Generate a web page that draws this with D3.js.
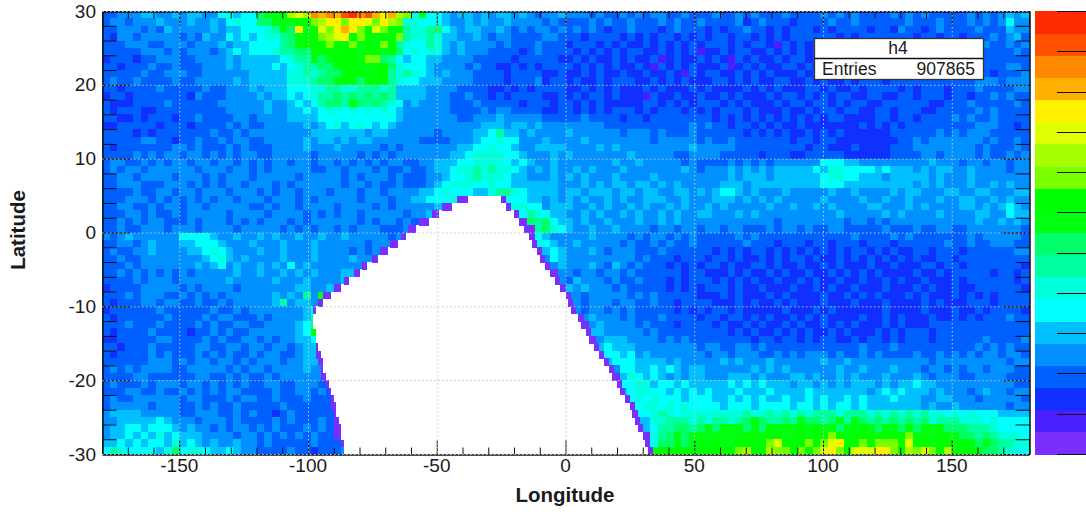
<!DOCTYPE html>
<html><head><meta charset="utf-8">
<script src="https://cdnjs.cloudflare.com/ajax/libs/d3/7.8.5/d3.min.js"></script>
<style>
html,body{margin:0;padding:0;background:#fff}
text{font-family:"Liberation Sans",Arial,sans-serif;fill:#1a1a1a}
</style></head><body><svg id="c" width="1086" height="512"></svg>
<script>
// Palette levels, low to high
const levelColors = ["#7b2fff","#4a1fff","#1030ff","#0060ff","#0090ff","#00c0ff","#00ffff","#00ffdc","#00ffa0","#00ff6a",
  "#00ff10","#00ff00","#78ff00","#a8ff00","#e0ff00","#fff000","#ffb000","#ff8a00","#ff5000","#ff2a00"];
// Bin level read per row (top = lat 29.5); each column is 3 degrees, base-20 digit = palette level
const levelRows = [
"3344455445 4554467566 9aaadedhgh gijhigfgdc 7a66545545 4554543445 4443433434 3443343334 3343433343 3334343433 3343434333 3343434545",
"3443444544 4544546766 99aaabbcdf fcffecfdc7 7666544545 4454444343 3334343343 3343433433 3342343332 3333433433 3333433343 3343434644",
"3344434354 4444545566 678a9fabec fgfcbecbb8 7789654554 4543434434 3434323343 3323433323 2334332323 3323233332 3324332343 3334333544",
"3244344444 3435446565 67789abbcd efbcbabbc8 7787554454 3443333443 3323333232 3233232323 3233232323 3333323233 3333323323 3233343453",
"3334443344 4344454556 66689abbbc bacabacb87 6687545444 4343334333 2333232322 3232323233 3232332132 3233233323 2332323332 3333433434",
"3333344434 3444345656 6678899bbb bbbabbab96 7677545444 3333234333 3232323233 2232323122 3233223232 3232321323 3222332332 3332333343",
"2333233444 3344445455 5556788a9a bbbacc9865 6655444433 3332333332 2323223232 2312322323 2132322323 3232232232 2323232323 2323333333",
"3323334334 3334445455 5565678899 abbaaab976 6654444343 3223232333 3232323223 2132323222 3123232233 2322323232 2323322323 3233333443",
"3333343344 4334444445 5555778789 9abbabb878 7654544433 3323333223 2232322322 3223213233 2232323222 3232223223 2322223233 2333323334",
"3433433334 3344444545 5555777899 aba9bab876 6555444433 3323334233 2322323332 2323232223 3232322332 2323223233 3233333333 3334443444",
"3323333433 3334334445 4555666778 8778887855 5544443333 2232323333 2232323222 3232223232 2223232322 2332322323 3332323332 3334333344",
"2332333333 3243334444 5455656788 9898989855 5544433433 2323333223 2323323222 1322322322 3232223233 2323233223 3223323332 3323343433",
"3222333343 3333344444 4544565689 98a9898764 5444433343 3333233323 3232322222 3323232333 2323222323 3233232332 2333333223 3343333343",
"3233322333 3333334444 4544556567 7676767654 4444433334 3443333223 3232323332 3233323232 3332322232 2323323322 3323332233 3334343333",
"3322323332 3343333443 4444555566 6666666654 4444443344 4544444333 3343333233 2333333332 3232323232 3232332222 3323323333 4343343333",
"2233333233 3233334343 3444445456 7567656544 4444444445 5545545444 4444433333 3333334343 3233232322 3222222232 3232333333 3334443323",
"3333232333 3333433434 4444444555 5555455444 4443444455 6855454444 5444444344 4343334333 3332323232 2323232222 2233333343 4344433333",
"3333344332 3343343443 3444445455 4545544444 4333344456 6766444544 4454444444 4344444343 3433333332 3323322222 2223343444 4444343343",
"3233333334 4343334343 3344445444 5444443434 4444445566 7665445555 4444545444 4444445444 4433333333 3233222322 2233344444 4443433343",
"3333434344 3443434344 3344444344 4443434344 4444455677 7766544454 5444444454 4444334444 3333323332 2333332222 2233334434 4443433434",
"3443343434 4344344343 4344344344 3434343443 3445556677 7765654454 4444445445 4444434333 3434343444 4446665544 4444444544 4344344344",
"3434434444 4434443443 4344444334 4344434334 3345567787 8776545454 4545444544 4444454344 4545454555 5565776666 5655545455 4454444344",
"3344344443 4443434443 4444434444 4343444343 3344566787 7765544454 5454445444 4544444444 4545554555 5556776655 5455555454 4454444444",
"3344433344 4343434434 4434344444 4344343343 3345677766 7665555554 4454545545 5454544444 5554555555 5556665555 5555545454 4454454544",
"3333433443 4434443444 3434434443 4443443444 4556766655 7887655554 5545554554 5544554545 6654544454 4444544544 4454554445 5445544455",
"3334443434 3434344344 4344434344 4443444344 5566677000 0066655454 5454454544 5554454445 5545454544 4445444454 4544544454 4554454544",
"3344334344 3443444443 3434434444 3444434344 4445677000 0007766455 5445454454 5445454454 5444445445 4454544445 5444545444 4554545654",
"3334434334 3444443444 4344443434 3443444443 4456600000 0000687655 4454544545 4454544554 4454544444 4444454444 4545444454 4445544655",
"3343434433 3434443434 3444343444 4443434434 3445500000 0000098965 5454454445 4454544444 4444444344 4444443443 4344444444 4445445454",
"3343344434 4434444344 4443434344 3434443334 3450000000 0000008976 5445445444 4344344344 3443334344 3433443333 3433343344 3344444443",
"4345444444 6666544544 5454454454 4544444340 0000000000 0000076544 4445444434 3443434333 3343433333 3333333433 3343433333 3343444443",
"3344345444 5566654445 4445444544 4444344400 0000000000 0000007654 4544444343 3434334333 3334333233 3233233323 3323333334 3343344433",
"3433445444 4556765444 5445444544 4434343000 0000000000 0000000565 4445434443 3343333332 3232332323 2323232332 3232233233 3233333344",
"3343344444 4445675454 4445444544 4454440000 0000000000 0000000465 4444444443 4333233323 3232232323 3232232323 2323232233 2333333333",
"3334344444 4454564544 5454645444 4444400000 0000000000 0000000045 4445435434 3332323233 2322332322 3223232223 2232223323 3233333332",
"3343434343 4344444544 5445454544 4554400000 0000000000 0000000004 4344344343 3333323322 2323223232 2322323232 3222232232 3333323323",
"3333434443 4444445444 4454445444 4545000000 0000000000 0000000004 3544434334 3332323332 3232322322 3232232232 2323223222 3233333323",
"2333344444 3434444344 4444455445 4550000000 0000000000 0000000000 5454443433 3332323233 3232232223 2232322322 2322232322 3223333332",
"3334344433 4343434444 44545484a9 0000000000 0000000000 0000000000 4434444434 3433333222 3232223232 2223223232 3222323222 3232323333",
"3233344344 3343343444 4458455480 0000000000 0000000000 0000000000 4434443443 3433233332 2232322323 2223222322 2322223232 2233323333",
"2333333433 3333433434 4444445700 0000000000 0000000000 0000000000 4434434343 3333232323 3232222232 2232322222 2322223222 3223233332",
"3233333343 3334344333 4344445800 0000000000 0000000000 0000000000 0045444343 3343333233 2332323223 2323222232 2323222322 3232333433",
"3334333433 3343433443 3444456800 0000000000 0000000000 0000000000 0004544443 4333233332 3223232232 3223232322 2323222333 3333333333",
"3233334333 3233434334 4444456a00 0000000000 0000000000 0000000000 0005544444 3433333333 3232322323 2322323222 3232333233 3333333333",
"2233333443 3334343344 3434455600 0000000000 0000000000 0000000000 0000455544 4434343333 3333233233 2323322323 3232333233 3333433334",
"3323334333 3344334434 4344345500 0000000000 0000000000 0000000000 0000565554 4444444344 3344343333 3333333343 3343333333 3334343433",
"3233334343 3343434334 3443345500 0000000000 0000000000 0000000000 0000066564 5444444434 4344433434 3444343343 4333343343 4343443443",
"3333334443 4344344343 4443445500 0000000000 0000000000 0000000000 0000056665 5554544444 5454445444 4445445444 4444444344 4444444344",
"3434344443 3444443434 4344445440 0000000000 0000000000 0000000000 0000004665 5656545544 4444545454 4444454454 4454443443 4344344433",
"3333443333 3344334343 3434444440 0000000000 0000000000 0000000000 0000000576 5654545544 4555454445 5454454544 4544454344 4334444333",
"3433343444 3443434343 3443344434 0000000000 0000000000 0000000000 0000000667 7566565555 5656565554 5545454555 4545565544 4444444433",
"3334433433 4343434433 3343344343 0000000000 0000000000 0000000000 0000000567 7665656565 5565556555 5655555554 5656555454 4434544344",
"3433444444 3443334344 3343334333 0000000000 0000000000 0000000000 0000000067 6766656665 5656565565 5656556565 5565554455 4443444443",
"3444443444 3343433433 3334333333 0000000000 0000000000 0000000000 0000000056 7767676666 5666566665 6656566565 5555554544 5444444344",
"4555544444 3344433434 3323433333 0000000000 0000000000 0000000000 0000000006 6787677777 7778778787 8788878887 8787878776 7676665555",
"4455555654 4434443433 3343433343 0000000000 0000000000 0000000000 0000000005 5778887878 8789a98898 a9989a8a98 9898989788 8777676666",
"4556656665 4544343443 4343334343 0000000000 0000000000 0000000000 0000000000 56889989a9 aaa9a9baba babaa9aaba 9aa9a9aaa9 9988876666",
"4556565756 5554444344 3434343433 0000000000 0000000000 0000000000 0000000000 0789a9aaaa aaabbabbaa babbcbabbb abbbcababa a998987776",
"5565656657 5654544544 3433333433 3000000000 0000000000 0000000000 0000000000 0699a9abab aabbabcebb bcbcefbbcb cccbebbabb aba9a98877",
"6876666579 6776556544 3333433233 3400000000 0000000000 0000000000 0000000000 0abbbbbbbb bbcdbbdccb cbcefcbeee ffcbdcecbd baba998776"
];
// Empty region edges in longitude, for latitude rows starting at holeTopRow (bins)
const holeTopRow = 25;
const holeLeft = [-38,-44,-49,-53,-58,-62,-65,-69,-73,-77,-80,-84,-87,-91,-94,-97,-98,-98,-97,-97,-96,-95,-94,-94,-93,-92,-91,-90,-89,-89,-88,-87,-87,-86,-86];
const holeRight = [-25,-23,-20,-18,-16,-14,-13,-11,-10,-8,-6,-4,-2,0,1,2,5,6,8,9,11,13,15,17,18,20,21,23,25,26,27,28,30,31,32];
const edgeLeft = [4,4,3,4,3,2,3,3,2,2,2,2,3,3,2,1,0,0,0,0,1,2,1,1,2,1,1,1,2,1,1,1,1,0,0];
const edgeRight = 2;
// Axes
const xMajor = [-150,-100,-50,0,50,100,150];
const xMinor = d3.range(-170,180,10).filter(v=>!xMajor.includes(v));
const yMajor = [-30,-20,-10,0,10,20,30];
const yMinor = d3.range(-28,30,2).filter(v=>v%10!==0);
const zMax = 220, zTicks = d3.range(0,221,20);
const statsTitle = "h4", statsLabel = "Entries", statsValue = "907865";

const L=102,R=1029,T=11,B=454;
const x=d3.scaleLinear().domain([-180,180]).range([L,R]);
const y=d3.scaleLinear().domain([30,-30]).range([T,B]);
const svg=d3.select("#c");

const cells=[];
levelRows.forEach((row,r)=>{
  row.replace(/ /g,"").split("").forEach((ch,c)=>{
    cells.push({lon:-180+3*c,lat:30-r,level:parseInt(ch,20)});
  });
});
const heat=svg.append("g").attr("shape-rendering","crispEdges");
heat.selectAll("rect.c").data(cells).join("rect").attr("class","c")
  .attr("x",d=>x(d.lon)).attr("y",d=>y(d.lat))
  .attr("width",x(3)-x(0)+0.5).attr("height",y(0)-y(1)+0.5)
  .attr("fill",d=>levelColors[d.level]);

const holes=holeLeft.map((l,i)=>({l,r:holeRight[i],e:edgeLeft[i],lat:30-holeTopRow-i}));
heat.selectAll("rect.h").data(holes).join("rect").attr("class","h")
  .attr("x",d=>x(d.l)).attr("y",d=>y(d.lat)).attr("width",d=>x(d.r)-x(d.l))
  .attr("height",y(0)-y(1)+0.5).attr("fill","#fff");
heat.selectAll("rect.el").data(holes).join("rect").attr("class","el")
  .attr("x",d=>x(d.l-d.e)).attr("y",d=>y(d.lat)).attr("width",d=>x(d.e)-x(0))
  .attr("height",y(0)-y(1)+0.5).attr("fill",levelColors[0]);
heat.selectAll("rect.er").data(holes).join("rect").attr("class","er")
  .attr("x",d=>x(d.r)).attr("y",d=>y(d.lat)).attr("width",x(edgeRight)-x(0))
  .attr("height",y(0)-y(1)+0.5).attr("fill",levelColors[0]);

// frame and ticks
function ticks(gen,vals,size,tx,ty){
  const g=svg.append("g").attr("transform",`translate(${tx},${ty})`)
   .call(gen.tickValues(vals).tickSize(size).tickFormat(""));
  g.select(".domain").attr("stroke","#111");
  g.selectAll("line").attr("stroke","#111");
  g.selectAll("text").remove();
  return g;
}
ticks(d3.axisBottom(x),xMajor,-14,0,B+0.5);
ticks(d3.axisBottom(x),xMinor,-7,0,B+0.5);
ticks(d3.axisTop(x),xMajor,-14,0,T+0.5);
ticks(d3.axisTop(x),xMinor,-7,0,T+0.5);
ticks(d3.axisLeft(y),yMajor,-28,L+0.5,0);
ticks(d3.axisLeft(y),yMinor,-14,L+0.5,0);
ticks(d3.axisRight(y),yMajor,-28,R+0.5,0);
ticks(d3.axisRight(y),yMinor,-14,R+0.5,0);

// grid
const gridG=svg.append("g").attr("stroke","#c8c8c8").attr("stroke-width",1).attr("stroke-dasharray","1.5,2.5");
gridG.selectAll("line.v").data(xMajor).join("line").attr("class","v")
  .attr("x1",d=>x(d)+0.5).attr("x2",d=>x(d)+0.5).attr("y1",T).attr("y2",B);
gridG.selectAll("line.h").data(yMajor).join("line").attr("class","h")
  .attr("y1",d=>y(d)+0.5).attr("y2",d=>y(d)+0.5).attr("x1",L).attr("x2",R);

// tick labels
svg.append("g").selectAll("text").data(xMajor).join("text")
  .attr("x",d=>x(d)).attr("y",472).attr("text-anchor","middle").attr("font-size",19).text(d=>String(d));
svg.append("g").selectAll("text").data(yMajor).join("text")
  .attr("x",96).attr("y",d=>y(d)+6.5).attr("text-anchor","end").attr("font-size",19).text(d=>String(d));
svg.append("text").attr("x",565).attr("y",502).attr("text-anchor","middle")
  .attr("font-size",20.5).attr("font-weight","bold").text("Longitude");
svg.append("text").attr("transform","translate(25,230) rotate(-90)").attr("text-anchor","middle")
  .attr("font-size",20.5).attr("font-weight","bold").text("Latitude");

// palette
const z=d3.scaleLinear().domain([0,zMax]).range([B,T]);
const zStep=zMax/levelColors.length;
svg.append("g").attr("shape-rendering","crispEdges").selectAll("rect").data(levelColors).join("rect")
  .attr("x",1034.5).attr("width",51)
  .attr("y",(d,i)=>z((i+1)*zStep)).attr("height",z(0)-z(zStep)+0.5).attr("fill",d=>d);
svg.append("g").selectAll("line").data(zTicks).join("line")
  .attr("x1",1057).attr("x2",1086).attr("y1",d=>Math.round(z(d))+0.5).attr("y2",d=>Math.round(z(d))+0.5)
  .attr("stroke","#111");

// stats box
const sb=svg.append("g");
sb.append("rect").attr("x",814.5).attr("y",38.5).attr("width",169).attr("height",41)
  .attr("fill","#fff").attr("stroke","#333").attr("stroke-width",1.3);
sb.append("line").attr("x1",814).attr("x2",984).attr("y1",58.5).attr("y2",58.5).attr("stroke","#111").attr("stroke-width",1.3);
sb.append("text").attr("x",898).attr("y",54).attr("text-anchor","middle").attr("font-size",17.5).text(statsTitle);
sb.append("text").attr("x",822).attr("y",75).attr("font-size",17.5).text(statsLabel);
sb.append("text").attr("x",975).attr("y",75).attr("text-anchor","end").attr("font-size",17.5).text(statsValue);
</script></body></html>
